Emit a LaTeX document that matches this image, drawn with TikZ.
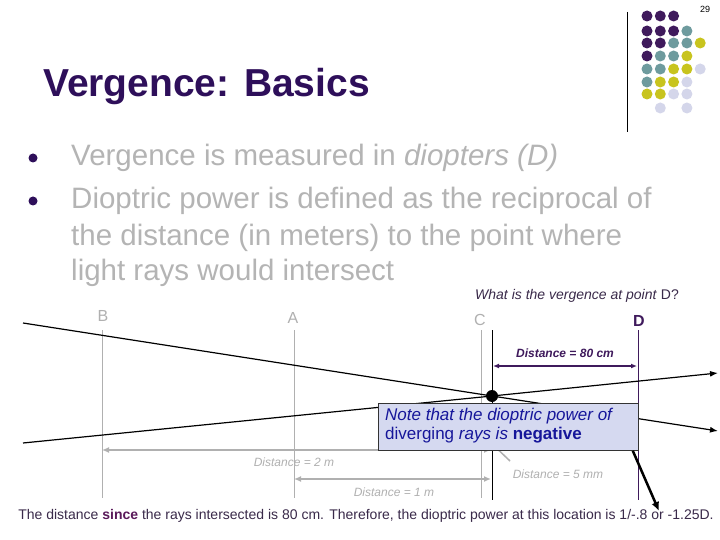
\documentclass[tikz,border=0pt]{standalone}
\usepackage{fontspec}
\setmainfont{Liberation Sans}
\usetikzlibrary{arrows.meta}
\definecolor{pp}{HTML}{3F1A5C}
\definecolor{tl}{HTML}{6E9B9E}
\definecolor{yl}{HTML}{C8C41E}
\definecolor{lv}{HTML}{D4D6EA}
\definecolor{ttl}{HTML}{2E0F5A}
\definecolor{txt}{HTML}{B4B4B4}
\definecolor{dtxt}{HTML}{3A2A4A}
\definecolor{since}{HTML}{5A1A5A}
\definecolor{boxf}{HTML}{D5D9F0}
\definecolor{navy}{HTML}{16169A}
\definecolor{gr}{HTML}{B0B0B0}
\tikzset{ray/.style={black,line width=1.2pt},
 guide/.style={gr,line width=0.8pt},
 garrow/.style={gr,line width=2.4pt,{Latex[length=7pt,width=6pt]}-{Latex[length=7pt,width=6pt]}},
 glab/.style={gr,font=\itshape\fontsize{12}{12}\selectfont,inner sep=0pt},
 dot/.style={circle,minimum size=12pt,inner sep=0pt}}
\begin{document}
\begin{tikzpicture}[x=1pt,y=-1pt]
\useasboundingbox (0,0) rectangle (720,540);
\fill[white] (0,0) rectangle (720,540);
% logo
\draw[black,line width=0.8pt] (627,12)--(627,132);
\node[font=\fontsize{9}{9}\selectfont,inner sep=0pt] (pg) at (705,9) {29};
\foreach \r/\row in {16/{pp,pp,pp},31/{pp,pp,pp,tl},43/{pp,pp,tl,tl,yl},56/{pp,tl,tl,yl},69/{tl,tl,yl,yl,lv},82/{tl,yl,yl,lv},94/{yl,yl,lv,lv}}{
 \foreach \c [count=\i from 0] in \row {\fill[\c] (647+13.3*\i,\r) circle (5.5pt);}}
\fill[lv] (660.3,108) circle (5.5pt);
\fill[lv] (686.9,108) circle (5.5pt);
% title
\node[anchor=west,ttl,font=\bfseries\fontsize{39}{39}\selectfont,inner sep=0pt] (title) at (43,87) {Vergence: Basics};
\fill[ttl] (33,158) circle (4.5pt);
\fill[ttl] (33,201) circle (4.5pt);
\begin{scope}[txt,font=\fontsize{29.5}{29.5}\selectfont]
\node[anchor=west,inner sep=0pt] (b1) at (71,158) {Vergence is measured in \textit{diopters (D)}};
\node[anchor=west,inner sep=0pt] (b2) at (71,201) {Dioptric power is defined as the reciprocal of};
\node[anchor=west,inner sep=0pt] (b3) at (71,238) {the distance (in meters) to the point where};
\node[anchor=west,inner sep=0pt] (b4) at (71,273) {light rays would intersect};
\end{scope}
\node[anchor=west,dtxt,font=\fontsize{14}{14}\selectfont,inner sep=0pt] (q) at (475,296) {\textit{What is the vergence at point} D?};
% guides
\node[gr,font=\fontsize{16}{16}\selectfont] (lB) at (103,316) {B};
\node[gr,font=\fontsize{16}{16}\selectfont] (lA) at (293,318) {A};
\node[gr,font=\fontsize{16}{16}\selectfont] (lC) at (480,320) {C};
\node[pp,font=\bfseries\fontsize{16}{16}\selectfont] (lD) at (639,321) {D};
\coordinate (Bt) at (102,330); \coordinate (Bb) at (102,498);
\coordinate (At) at (294,330); \coordinate (Ab) at (294,498);
\coordinate (Ct) at (481,330); \coordinate (Cb) at (481,498);
\draw[guide] (Bt)--(Bb); \draw[guide] (At)--(Ab); \draw[guide] (Ct)--(Cb);
\coordinate (Kt) at (492,330); \coordinate (Kb) at (492,500);
\draw[black,line width=0.8pt] (Kt)--(Kb);
\coordinate (Dt) at (638,330); \coordinate (Db) at (638,500);
\draw[pp,line width=0.8pt] (Dt)--(Db);
% 80cm
\coordinate (m1) at (493,366); \coordinate (m2) at (637,366);
\draw[pp,line width=1.2pt,{Latex[length=6pt,width=5pt]}-{Latex[length=6pt,width=5pt]}] (m1)--(m2);
\node[pp,font=\bfseries\itshape\fontsize{12}{12}\selectfont] (l80) at (565,353) {Distance = 80 cm};
% gray distances
\coordinate (g2a) at (102,450); \coordinate (g2b) at (491,450);
\draw[garrow] (g2a)--(g2b);
\coordinate (g1a) at (294,479); \coordinate (g1b) at (491,479);
\draw[garrow] (g1a)--(g1b);
\node[glab] (l2m) at (294,462) {Distance = 2 m};
\node[glab] (l1m) at (394,492) {Distance = 1 m};
\node[glab] (l5) at (558,474) {Distance = 5 mm};
\coordinate (s1) at (488,440); \coordinate (s2) at (510,461);
\draw[gr,line width=1.5pt] (s1)--(s2);
% rays
\node[dot,fill=black] (X) at (492,396) {};
\coordinate (r1s) at (23,323); \coordinate (r1e) at (718,431);
\coordinate (r2s) at (23,443); \coordinate (r2e) at (718,373);
\draw[ray,-{Latex[length=8pt,width=6pt]}] (r1s)--(X.center)--(r1e);
\draw[ray,-{Latex[length=8pt,width=6pt]}] (r2s)--(X.center)--(r2e);
% note box
\node[draw=black!80,fill=boxf,line width=0.8pt,minimum width=260pt,minimum height=47pt,anchor=north west,inner sep=0pt] (box) at (378,403) {};
\node[anchor=west,navy,font=\fontsize{17}{19}\selectfont,align=left,inner sep=0pt] (note) at (385,426) {\textit{Note that the dioptric power of}\\diverging \textit{rays is} \textbf{negative}};
\coordinate (ae) at (659,511);
\draw[black,line width=2.5pt,-{Latex[length=9pt,width=8pt]}] (box.south east)++(-6,0) -- (ae);
% bottom
\node[dtxt,font=\fontsize{14}{14}\selectfont,inner sep=0pt] (bot) at (366,516) {The distance \textcolor{since}{\textbf{since}} the rays intersected is 80 cm. Therefore, the dioptric power at this location is 1/-.8 or -1.25D.};
\end{tikzpicture}
\end{document}
